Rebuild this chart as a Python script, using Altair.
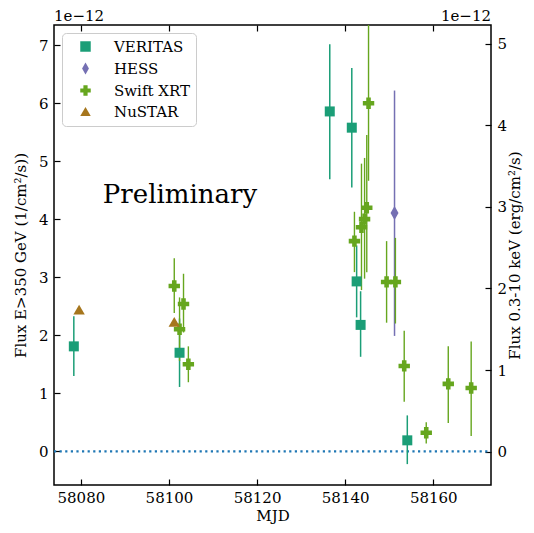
import altair as alt
import pandas as pd

FONT = "DejaVu Serif"

# ---------------- data (values in units of 1e-12) ----------------
# VERITAS, left axis: Flux E>350 GeV (1/cm^2/s)
ver_mjd = [58078.4, 58102.4, 58136.5, 58141.5, 58142.6, 58143.5, 58154.1]
ver_flux = [1.81, 1.70, 5.86, 5.58, 2.93, 2.18, 0.19]
ver_lo = [1.30, 1.11, 4.69, 4.55, 2.31, 1.63, -0.22]
ver_hi = [2.33, 2.29, 7.02, 6.61, 3.55, 2.76, 0.62]

# HESS, left axis
hess_mjd = [58151.2]
hess_flux = [4.11]
hess_lo = [1.99]
hess_hi = [6.22]

# Swift XRT, right axis: Flux 0.3-10 keV (erg/cm^2/s)
swift_mjd = [58101.2, 58102.4, 58103.3, 58104.4, 58142.1, 58143.7, 58144.4,
             58144.9, 58145.3, 58149.4, 58151.4, 58153.4, 58158.4, 58163.4, 58168.6]
swift_flux = [2.03, 1.50, 1.81, 1.07, 2.58, 2.75, 2.85, 2.99, 4.27, 2.08, 2.08,
              1.05, 0.23, 0.83, 0.78]
swift_lo = [1.70, 1.11, 1.46, 0.85, 2.20, 1.98, 2.12, 2.20, 3.32, 1.58, 1.57,
            0.61, 0.10, 0.35, 0.19]
swift_hi = [2.37, 1.89, 2.18, 1.29, 2.94, 3.53, 3.60, 3.88, 5.60, 2.58, 2.62,
            1.48, 0.36, 1.29, 1.35]

# NuSTAR, right axis
nustar_mjd = [58079.6, 58101.2]
nustar_flux = [1.74, 1.59]

instruments = ["VERITAS", "HESS", "Swift XRT", "NuSTAR"]
colors = ["#1b9e77", "#7570b3", "#66a61e", "#a6761d"]
thin_diamond = "M0,-1.15L0.65,0L0,1.15L-0.65,0Z"
shapes = ["square", thin_diamond, "cross", "triangle-up"]
sizes = {"VERITAS": 100, "HESS": 150, "Swift XRT": 130, "NuSTAR": 130}
col_of = dict(zip(instruments, colors))

x_ticks = [58080, 58100, 58120, 58140, 58160]
left_ticks = [0, 1, 2, 3, 4, 5, 6, 7]
right_ticks = [0, 1, 2, 3, 4, 5]

XD = [58073.9, 58173.1]
LD = [-0.58, 7.35]
RD = [-0.41, 5.23]

W, H = 437, 460

# ---------------- tables ----------------
def table(inst, mjd, flux, lo=None, hi=None):
    n = len(mjd)
    return pd.DataFrame({
        "mjd": mjd, "flux": flux,
        "lo": lo if lo is not None else flux,
        "hi": hi if hi is not None else flux,
        "inst": [inst] * n,
        "col": [col_of[inst]] * n,
        "sz": [sizes[inst]] * n,
    })

left_df = pd.concat([table("VERITAS", ver_mjd, ver_flux, ver_lo, ver_hi),
                     table("HESS", hess_mjd, hess_flux, hess_lo, hess_hi)])
right_err_df = table("Swift XRT", swift_mjd, swift_flux, swift_lo, swift_hi)
right_df = pd.concat([table("Swift XRT", swift_mjd, swift_flux, swift_lo, swift_hi),
                      table("NuSTAR", nustar_mjd, nustar_flux)])

zero_df = pd.DataFrame({"x0": [XD[0]], "x1": [XD[1]], "y": [0]})
prelim_df = pd.DataFrame({"mjd": [58102.5], "y": [4.29], "t": ["Preliminary"]})
exp_df = pd.DataFrame({"mjd": [XD[0], XD[1]], "y": [LD[1], LD[1]],
                       "t": ["1e\u221212", "1e\u221212"]})

xs = alt.Scale(domain=XD, nice=False, zero=False)
ls = alt.Scale(domain=LD, nice=False, zero=False)
rs = alt.Scale(domain=RD, nice=False, zero=False)

legend = alt.Legend(title=None, orient="none", legendX=8, legendY=8,
                    labelFont=FONT, labelFontSize=15, labelColor="black")
color = alt.Color("inst:N", scale=alt.Scale(domain=instruments, range=colors), legend=legend)
shape = alt.Shape("inst:N", scale=alt.Scale(domain=instruments, range=shapes), legend=legend)

tick_common = dict(labels=False, domain=False, grid=False, ticks=True, tickSize=6,
                   tickColor="black", tickWidth=1.2, title=None)

# L1: left points with main bottom and left axes (labels)
L1 = alt.Chart(left_df).mark_point(filled=True, opacity=1).encode(
    x=alt.X("mjd:Q", scale=xs, axis=alt.Axis(orient="bottom", values=x_ticks, format="d",
                                             ticks=False, domain=False, grid=False,
                                             labelPadding=5, title="MJD", titlePadding=3)),
    y=alt.Y("flux:Q", scale=ls, axis=alt.Axis(orient="left", values=left_ticks, format="d",
                                              ticks=False, domain=False, grid=False,
                                              labelPadding=6,
                                              title="Flux E>350 GeV (1/cm\u00b2/s))",
                                              titlePadding=10)),
    color=color, shape=shape, size=alt.Size("sz:Q", scale=None),
)

# L2: left error bars, inward ticks on left and bottom
L2 = alt.Chart(left_df).mark_rule(strokeWidth=1.5, clip=True).encode(
    x=alt.X("mjd:Q", scale=xs, axis=alt.Axis(orient="top", offset=-H, values=x_ticks, **tick_common)),
    y=alt.Y("lo:Q", scale=ls, axis=alt.Axis(orient="right", offset=-W, values=left_ticks, **tick_common)),
    y2="hi:Q",
    color=alt.Color("col:N", scale=None),
)

# L3: right error bars, inward ticks on top and right
L3 = alt.Chart(right_err_df).mark_rule(strokeWidth=1.4, clip=True).encode(
    x=alt.X("mjd:Q", scale=xs, axis=alt.Axis(orient="bottom", offset=-H, values=x_ticks, **tick_common)),
    y=alt.Y("lo:Q", scale=rs, axis=alt.Axis(orient="left", offset=-W, values=right_ticks, **tick_common)),
    y2="hi:Q",
    color=alt.Color("col:N", scale=None),
)

# L4: right points with right axis labels
L4 = alt.Chart(right_df).mark_point(filled=True, opacity=1).encode(
    x=alt.X("mjd:Q", scale=xs, axis=None),
    y=alt.Y("flux:Q", scale=rs, axis=alt.Axis(orient="right", values=right_ticks, format="d",
                                              ticks=False, domain=False, grid=False,
                                              labelPadding=6,
                                              title="Flux 0.3-10 keV (erg/cm\u00b2/s)",
                                              titleAngle=270, titleBaseline="top",
                                              titlePadding=1)),
    color=color, shape=shape, size=alt.Size("sz:Q", scale=None),
)

zero = alt.Chart(zero_df).mark_rule(color="#1f77b4", strokeWidth=2.2, strokeDash=[2.2, 3.4]).encode(
    x=alt.X("x0:Q", scale=xs, axis=None),
    x2="x1:Q",
    y=alt.Y("y:Q", scale=ls, axis=None),
)

prelim = alt.Chart(prelim_df).mark_text(font=FONT, fontSize=26, color="black",
                                        align="center", baseline="alphabetic").encode(
    x=alt.X("mjd:Q", scale=xs, axis=None),
    y=alt.Y("y:Q", scale=ls, axis=None),
    text="t:N",
)

exp_left = alt.Chart(exp_df.iloc[[0]]).mark_text(font=FONT, fontSize=15, color="black",
                                                  align="left", baseline="alphabetic", dy=-4).encode(
    x=alt.X("mjd:Q", scale=xs, axis=None),
    y=alt.Y("y:Q", scale=ls, axis=None),
    text="t:N",
)
exp_right = alt.Chart(exp_df.iloc[[1]]).mark_text(font=FONT, fontSize=15, color="black",
                                                   align="right", baseline="alphabetic", dy=-4).encode(
    x=alt.X("mjd:Q", scale=xs, axis=None),
    y=alt.Y("y:Q", scale=ls, axis=None),
    text="t:N",
)

chart = alt.layer(zero, L2, L3, L1, L4, prelim, exp_left, exp_right).resolve_scale(
    x="independent", y="independent", color="shared", shape="shared"
).resolve_axis(x="independent", y="independent").properties(
    width=W, height=H,
    background="white",
    autosize=alt.AutoSizeParams(type="none"),
    padding={"left": 46, "top": 17, "right": 35, "bottom": 39},
).configure(font=FONT).configure_view(stroke="black", strokeWidth=1.5).configure_axis(
    labelFont=FONT, labelFontSize=15, labelColor="black",
    titleFont=FONT, titleFontSize=15, titleColor="black", titleFontWeight="normal",
).configure_legend(
    labelFont=FONT, labelFontSize=15, labelColor="black",
    symbolSize=110, symbolOpacity=1,
    fillColor="rgba(255,255,255,0.8)", strokeColor="#cccccc",
    cornerRadius=4, padding=6, rowPadding=4,
    symbolOffset=10, labelOffset=21,
)

chart.save("out.html", embed_options={"renderer": "svg", "actions": False})
